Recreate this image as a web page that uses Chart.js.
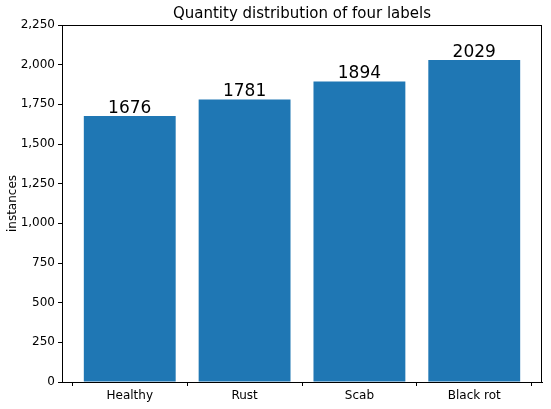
<!DOCTYPE html>
<html><head><meta charset="utf-8">
<script src="https://cdn.jsdelivr.net/npm/chart.js@4"></script>
<style>html,body{margin:0;padding:0;background:#fff}#w{width:551px;height:409px}</style>
</head><body><div id="w"><canvas id="c"></canvas></div>
<script>
const categories = ["Healthy", "Rust", "Scab", "Black rot"];
const instances = [1676, 1781, 1894, 2029];
const yTicks = [0, 250, 500, 750, 1000, 1250, 1500, 1750, 2000, 2250];
const titleText = "Quantity distribution of four labels";
const yLabel = "instances";
const F = "'DejaVu Sans', sans-serif";

const overlay = {
  id: 'overlay',
  afterDraw(chart) {
    const ctx = chart.ctx, x = chart.scales.x, y = chart.scales.y, a = chart.chartArea;
    ctx.save();
    ctx.fillStyle = '#000';
    ctx.textAlign = 'center';
    ctx.textBaseline = 'alphabetic';
    ctx.font = "17px " + F;
    instances.forEach((v, i) => ctx.fillText(String(v), x.getPixelForValue(i), y.getPixelForValue(v) - 3));
    ctx.font = "15px " + F;
    ctx.fillText(titleText, (a.left + a.right) / 2, 18);
    ctx.font = "12px " + F;
    ctx.translate(13, (a.top + a.bottom) / 2);
    ctx.rotate(-Math.PI / 2);
    ctx.textBaseline = 'middle';
    ctx.fillText(yLabel, 0, 0);
    ctx.restore();
  }
};

new Chart(document.getElementById('c'), {
  type: 'bar',
  data: { datasets: [{ data: instances.map((v, i) => ({ x: i, y: v })), backgroundColor: '#1f77b4', barPercentage: 1, categoryPercentage: 0.8 }] },
  options: {
    responsive: true, maintainAspectRatio: false, animation: false,
    devicePixelRatio: 1,
    layout: { padding: { top: 25, right: 9, left: 0, bottom: 0 } },
    plugins: { legend: { display: false }, tooltip: { enabled: false } },
    scales: {
      x: {
        type: 'linear', min: -0.59, max: 3.59, offset: false,
        afterBuildTicks(s) { s.ticks = categories.map((c, i) => ({ value: i })); },
        afterFit(s) { s.height = 27; },
        ticks: { autoSkip: false, maxRotation: 0, color: '#000', font: { family: F, size: 12 }, padding: 3, callback: (v) => categories[v] },
        grid: { drawOnChartArea: false, drawTicks: true, tickLength: 4, tickColor: '#000' },
        border: { color: '#000', width: 1 }
      },
      y: {
        min: 0, max: 2250,
        afterBuildTicks(s) { s.ticks = yTicks.map(v => ({ value: v })); },
        afterFit(s) { s.width = 62; },
        ticks: { color: '#000', font: { family: F, size: 12 }, padding: 3 },
        grid: { drawOnChartArea: false, drawTicks: true, tickLength: 4, tickColor: '#000' },
        border: { color: '#000', width: 1 }
      }
    }
  },
  plugins: [overlay, {
    id: 'frame',
    afterDraw(chart) {
      const ctx = chart.ctx, a = chart.chartArea;
      ctx.save(); ctx.strokeStyle = '#000'; ctx.lineWidth = 1;
      ctx.strokeRect(a.left + 0.5, a.top + 0.5, a.right - a.left - 1, a.bottom - a.top);
      ctx.restore();
    }
  }]
});
</script></body></html>
